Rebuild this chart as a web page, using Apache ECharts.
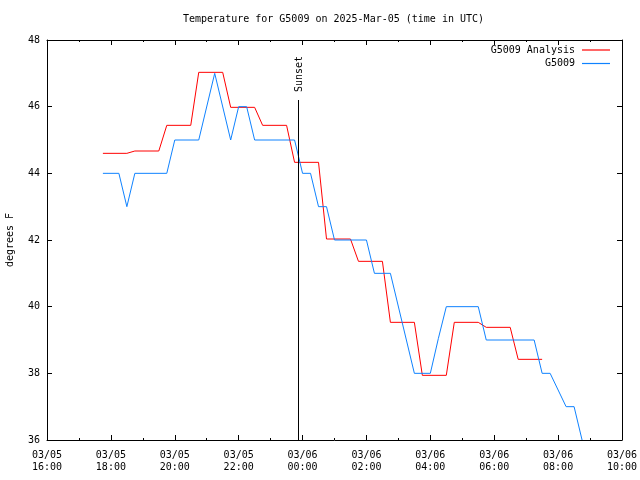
<!DOCTYPE html>
<html>
<head>
<meta charset="utf-8">
<script src="https://cdn.jsdelivr.net/npm/echarts@6/dist/echarts.min.js"></script>
<style>
html,body{margin:0;padding:0;background:#fff;}
#c{width:640px;height:480px;}
</style>
</head>
<body>
<div id="c"></div>
<script>
var titleText = 'Temperature for G5009 on 2025-Mar-05 (time in UTC)';
var yAxisName = 'degrees F';
var analysisName = 'G5009 Analysis';
var obsName = 'G5009';
var sunsetLabel = 'Sunset';
var sunsetTime = '03/05 23:52';
var sunsetTop = 46.2;
var xStart = '03/05 16:00';
var xEnd = '03/06 10:00';
var yMin = 36, yMax = 48, yStep = 2;

var analysisTimes = ['03/05 17:45','03/05 18:30','03/05 18:45','03/05 19:30','03/05 19:45','03/05 20:30','03/05 20:45','03/05 21:30','03/05 21:45','03/05 22:30','03/05 22:45','03/05 23:30','03/05 23:45','03/06 00:30','03/06 00:45','03/06 01:30','03/06 01:45','03/06 02:30','03/06 02:45','03/06 03:30','03/06 03:45','03/06 04:30','03/06 04:45','03/06 05:30','03/06 05:45','03/06 06:30','03/06 06:45','03/06 07:30'];
var analysisValues = [44.60,44.60,44.67,44.67,45.44,45.44,47.03,47.03,45.98,45.98,45.44,45.44,44.33,44.33,42.03,42.03,41.36,41.36,39.53,39.53,37.94,37.94,39.53,39.53,39.38,39.38,38.42,38.42];

var obsTimes = ['03/05 17:45','03/05 18:15','03/05 18:30','03/05 18:45','03/05 19:45','03/05 20:00','03/05 20:45','03/05 21:15','03/05 21:45','03/05 22:00','03/05 22:15','03/05 22:30','03/05 23:45','03/06 00:00','03/06 00:15','03/06 00:30','03/06 00:45','03/06 01:00','03/06 02:00','03/06 02:15','03/06 02:45','03/06 03:30','03/06 04:00','03/06 04:15','03/06 04:30','03/06 05:30','03/06 05:45','03/06 07:15','03/06 07:30','03/06 07:45','03/06 08:15','03/06 08:30','03/06 08:45'];
var obsValues = [44,44,43,44,44,45,45,47,45,46,46,45,45,44,44,43,43,42,42,41,41,38,38,39.04,40,40,39,39,38,38,37,37,36];

function toMs(s){
  var p = s.split(' '); var d = p[0].split('/'); var t = p[1].split(':');
  return Date.UTC(2025, +d[0]-1, +d[1], +t[0], +t[1]);
}
function pad(n){ return (n<10?'0':'')+n; }
function fmt(v){
  var d = new Date(v);
  return pad(d.getUTCMonth()+1)+'/'+pad(d.getUTCDate())+'\n'+pad(d.getUTCHours())+':'+pad(d.getUTCMinutes());
}
function pairs(ts, vs){ return ts.map(function(t,i){ return [toMs(t), vs[i]]; }); }

var FONT = 'DejaVu Sans Mono';
var HOUR = 3600000;
var xMin = toMs(xStart), xMax = toMs(xEnd);

function xAx(pos, showLabel){
  return {
    type:'value', position:pos, min:xMin, max:xMax, interval:2*HOUR,
    axisLine:{show:true, onZero:false, lineStyle:{color:'#000', width:1}},
    axisTick:{show:true, inside:true, length:5, lineStyle:{color:'#000'}},
    minorTick:{show:true, splitNumber:2, length:2, lineStyle:{color:'#000'}},
    splitLine:{show:false},
    axisLabel:{show:showLabel, formatter:fmt, color:'#000', fontFamily:FONT, fontSize:10, lineHeight:12, margin:9, hideOverlap:false, showMinLabel:true, showMaxLabel:true}
  };
}
function yAx(pos, showLabel){
  var o = {
    type:'value', position:pos, min:yMin, max:yMax, interval:yStep,
    axisLine:{show:true, onZero:false, lineStyle:{color:'#000', width:1}},
    axisTick:{show:true, inside:true, length:5, lineStyle:{color:'#000'}},
    splitLine:{show:false},
    axisLabel:{show:showLabel, color:'#000', fontFamily:FONT, fontSize:10, margin:7}
  };
  if (showLabel) {
    o.name = yAxisName; o.nameLocation = 'middle'; o.nameGap = 32;
    o.nameTextStyle = {color:'#000', fontFamily:FONT, fontSize:10};
  }
  return o;
}

var chart = echarts.init(document.getElementById('c'), null, {renderer:'canvas'});
chart.setOption({
  animation:false,
  backgroundColor:'#fff',
  title:{text:titleText, left:183, top:13, padding:0, textStyle:{color:'#000', fontFamily:FONT, fontSize:10, fontWeight:'normal', lineHeight:12}},
  grid:{left:47, right:18, top:40, bottom:40, containLabel:false, outerBoundsMode:'none'},
  legend:{
    orient:'vertical', right:30, top:44, padding:0, itemGap:1.5, align:'right',
    icon:'rect', itemWidth:28, itemHeight:1.2,
    textStyle:{color:'#000', fontFamily:FONT, fontSize:10, lineHeight:12, padding:[0,2,0,0]},
    data:[analysisName, obsName]
  },
  xAxis:[xAx('bottom', true), xAx('top', false)],
  yAxis:[yAx('left', true), yAx('right', false)],
  series:[
    {name:analysisName, type:'line', xAxisIndex:0, yAxisIndex:0, data:pairs(analysisTimes, analysisValues),
     symbol:'none', showSymbol:false, color:'#ff0000', lineStyle:{color:'#ff0000', width:1},
     markLine:{silent:true, symbol:'none', label:{show:false}, lineStyle:{color:'#000', width:1, type:'solid'},
       data:[[{coord:[toMs(sunsetTime), yMin]},{coord:[toMs(sunsetTime), sunsetTop]}]]}},
    {name:obsName, type:'line', xAxisIndex:0, yAxisIndex:0, data:pairs(obsTimes, obsValues),
     symbol:'none', showSymbol:false, color:'#0f82ff', lineStyle:{color:'#0f82ff', width:1}}
  ]
});
var sp = chart.convertToPixel({xAxisIndex:0, yAxisIndex:0}, [toMs(sunsetTime), sunsetTop]);
chart.setOption({graphic:[{type:'text', x:sp[0]+1, y:sp[1]-8, rotation:Math.PI/2,
  style:{text:sunsetLabel, fill:'#000', font:'10px "'+FONT+'"', align:'left', verticalAlign:'middle'}}]});
</script>
</body>
</html>
